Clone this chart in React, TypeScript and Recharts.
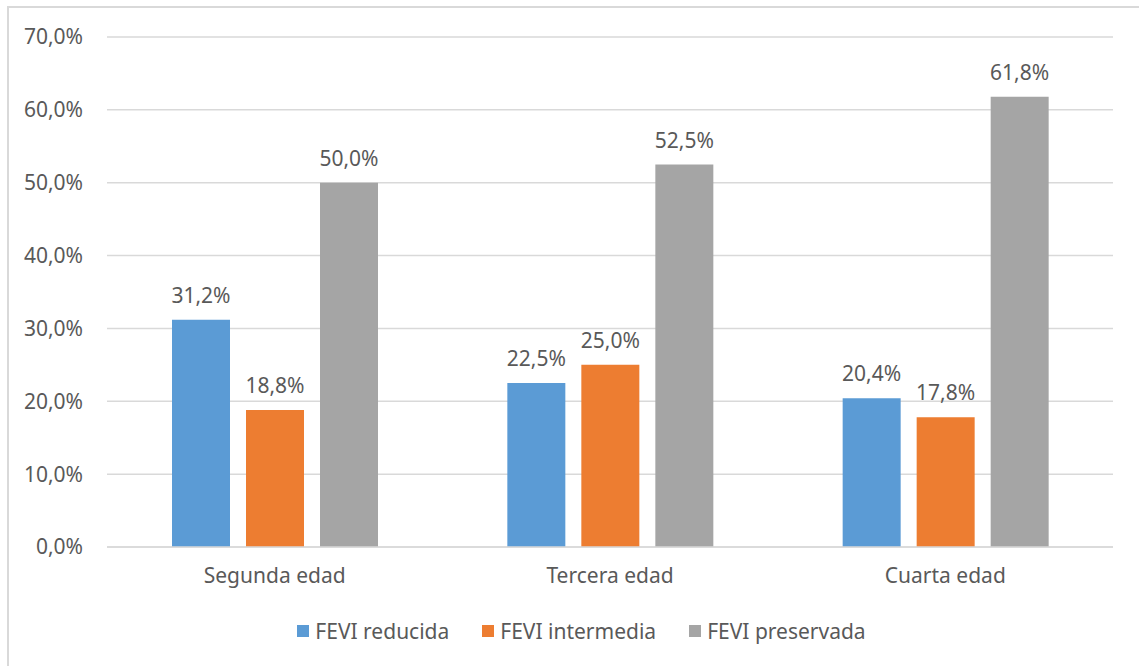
import { BarChart, Bar, XAxis, YAxis, CartesianGrid, LabelList } from "recharts";

const categories = ["Segunda edad", "Tercera edad", "Cuarta edad"];
const reducida = [31.2, 22.5, 20.4];
const intermedia = [18.8, 25.0, 17.8];
const preservada = [50.0, 52.5, 61.8];
const yTicks = [0, 10, 20, 30, 40, 50, 60, 70];

const SERIES = [
  { key: "reducida", name: "FEVI reducida", color: "#5b9bd5" },
  { key: "intermedia", name: "FEVI intermedia", color: "#ed7d31" },
  { key: "preservada", name: "FEVI preservada", color: "#a5a5a5" },
];

const data = categories.map((c, i) => ({
  name: c,
  reducida: reducida[i],
  intermedia: intermedia[i],
  preservada: preservada[i],
}));

const FONT = "'Noto Sans', 'Open Sans', sans-serif";
const TEXT = "#595959";
const FS = 21;

const pct = (v: number) => v.toFixed(1).replace(".", ",") + "%";

// legend drawn outside the chart so it doesn't eat the plot height
function LegendBox() {
  return (
    <div
      style={{
        position: "absolute",
        left: 12,
        top: 617,
        width: 1139,
        height: 28,
        display: "flex",
        justifyContent: "center",
        alignItems: "center",
        gap: 33,
        fontFamily: FONT,
        fontSize: FS,
        color: TEXT,
        lineHeight: "28px",
      }}
    >
      {SERIES.map((s) => (
        <div key={s.key} style={{ display: "flex", alignItems: "center" }}>
          <span style={{ width: 12, height: 12, background: s.color, marginRight: 6, display: "inline-block" }} />
          {s.name}
        </div>
      ))}
    </div>
  );
}

export default function App() {
  return (
    <div style={{ position: "absolute", left: 0, top: 0, width: 1139, height: 666, overflow: "hidden", background: "#fff" }}>
      <div
        style={{
          position: "absolute",
          left: 7,
          top: 6,
          width: 1160,
          height: 700,
          border: "2px solid #d9d9d9",
        }}
      />
      <BarChart
        width={1139}
        height={666}
        data={data}
        margin={{ top: 37, right: 26, left: 0, bottom: 89 }}
        barSize={58}
        barGap={16}
        style={{ position: "absolute", left: 0, top: 0 }}
      >
        <CartesianGrid vertical={false} stroke="#d9d9d9" strokeWidth={1.5} />
        <XAxis
          dataKey="name"
          height={30}
          axisLine={{ stroke: "#d9d9d9", strokeWidth: 1.5 }}
          tickLine={false}
          tickSize={0}
          tickMargin={21}
          tick={{ fill: TEXT, fontSize: FS, fontFamily: FONT }}
        />
        <YAxis
          width={107}
          domain={[0, 70]}
          ticks={yTicks}
          tickFormatter={pct}
          axisLine={false}
          tickLine={false}
          tickSize={0}
          tickMargin={24}
          tick={{ fill: TEXT, fontSize: FS, fontFamily: FONT }}
        />
        {SERIES.map((s) => (
          <Bar key={s.key} dataKey={s.key} name={s.name} fill={s.color} isAnimationActive={false}>
            <LabelList
              dataKey={s.key}
              position="top"
              offset={17}
              formatter={(v: number) => pct(v)}
              style={{ fill: TEXT, fontSize: FS, fontFamily: FONT }}
            />
          </Bar>
        ))}
      </BarChart>
      <LegendBox />
    </div>
  );
}
